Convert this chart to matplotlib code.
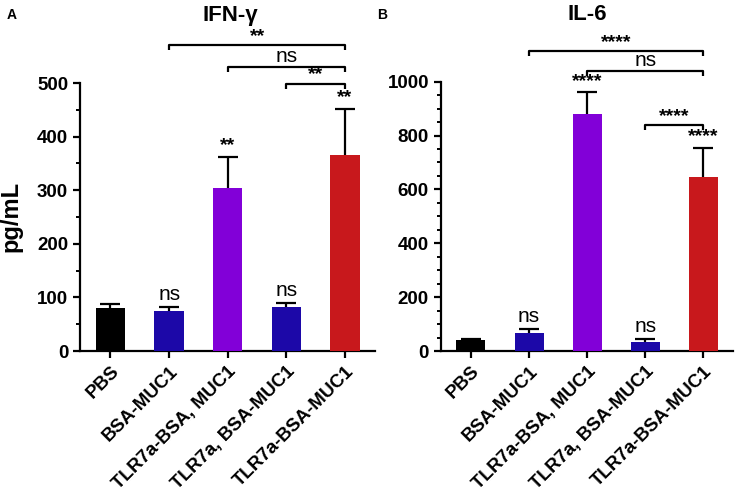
import matplotlib
matplotlib.use("Agg")
import matplotlib.pyplot as plt
from matplotlib.ticker import MultipleLocator

plt.rcParams['font.family'] = ['Liberation Sans', 'DejaVu Sans']

# groups and colours
groups = ["PBS", "BSA-MUC1", "TLR7a-BSA, MUC1", "TLR7a, BSA-MUC1", "TLR7a-BSA-MUC1"]
colors = ["#000000", "#1c08a8", "#8200d8", "#1c08a8", "#c8181c"]

# IFN-gamma (pg/mL)
ifn_mean = [81, 75, 305, 83, 365]
ifn_err = [6, 8, 57, 7, 87]
ifn_marks = ["", "ns", "**", "ns", "**"]
# brackets: (from, to, height, label)
ifn_brackets = [(1, 4, 570, "**"), (2, 4, 530, "ns"), (3, 4, 498, "**")]

# IL-6 (pg/mL)
il6_mean = [40, 65, 880, 35, 645]
il6_err = [6, 17, 80, 10, 110]
il6_marks = ["", "ns", "****", "ns", "****"]
il6_brackets = [(1, 4, 1113, "****"), (2, 4, 1041, "ns"), (3, 4, 838, "****")]


def panel(ax, mean, err, marks, brackets, ymax, step):
    x = list(range(len(groups)))
    # bars sit over the error bars so only the upper half shows
    ax.bar(x, mean, width=0.5, color=colors, zorder=3)
    ax.errorbar(x, mean, yerr=err, fmt="none", ecolor="black",
                elinewidth=1.6, capsize=7, capthick=1.6, zorder=2)
    ax.set_xlim(-0.52, 4.51)
    ax.set_ylim(0, ymax)
    ax.yaxis.set_major_locator(MultipleLocator(step))
    ax.yaxis.set_minor_locator(MultipleLocator(50))
    for s in ["top", "right"]:
        ax.spines[s].set_visible(False)
    for s in ["left", "bottom"]:
        ax.spines[s].set_linewidth(1.6)
    ax.tick_params(axis="both", which="major", width=1.6, length=5, labelsize=13.5)
    ax.tick_params(axis="y", which="minor", width=1.4, length=3)
    ax.set_xticks(x)
    ax.set_xticklabels(groups, rotation=45, ha="right", rotation_mode="anchor",
                       fontweight="bold", fontsize=13.5)
    for lab in ax.get_yticklabels():
        lab.set_fontweight("bold")
    pad = ymax * 0.01
    for i in x:
        if marks[i] == "ns":
            ax.text(i, mean[i] + err[i] + pad, "ns", ha="center", va="bottom", fontsize=15)
        elif marks[i]:
            ax.text(i, mean[i] + err[i] + pad, marks[i], ha="center", va="bottom",
                    fontsize=14, fontweight="bold")
    tick = ymax * 0.018
    for a, b, h, lab in brackets:
        ax.plot([a, a, b, b], [h - tick, h, h, h - tick], color="black", lw=1.6,
                clip_on=False, solid_capstyle="butt")
        if lab == "ns":
            ax.text((a + b) / 2, h + pad * 0.4, lab, ha="center", va="bottom", fontsize=15)
        else:
            ax.text((a + b) / 2, h + pad * 0.2, lab, ha="center", va="bottom",
                    fontsize=14, fontweight="bold")
    return ax


fig = plt.figure(figsize=(7.36, 5.03), dpi=100)
ax1 = fig.add_axes([80 / 736, 152 / 503, 295 / 736, 268 / 503])
ax2 = fig.add_axes([440.7 / 736, 152 / 503, 292.3 / 736, 269.3 / 503])

panel(ax1, ifn_mean, ifn_err, ifn_marks, ifn_brackets, 500, 100)
panel(ax2, il6_mean, il6_err, il6_marks, il6_brackets, 1000, 200)

# titles and panel letters
fig.text(230 / 736, 1 - 15 / 503, "IFN-γ", ha="center", va="center", fontsize=16, fontweight="bold")
fig.text(587 / 736, 1 - 15 / 503, "IL-6", ha="center", va="center", fontsize=16, fontweight="bold")
fig.text(12 / 736, 1 - 15 / 503, "A", ha="center", va="center", fontsize=10, fontweight="bold")
fig.text(382 / 736, 1 - 15 / 503, "B", ha="center", va="center", fontsize=10, fontweight="bold")
fig.text(11 / 736, 1 - 216 / 503, "pg/mL", ha="center", va="center", rotation=90,
         fontsize=17, fontweight="bold")

fig.savefig("out.png", dpi=100)
